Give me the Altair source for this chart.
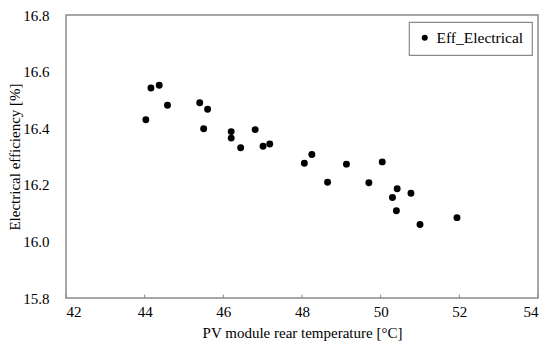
import altair as alt
import pandas as pd

temperature = [44.03, 44.16, 44.37, 44.58, 45.40, 45.50, 45.60, 46.20, 46.20, 46.44,
               46.81, 47.01, 47.18, 48.06, 48.25, 48.65, 49.13, 49.70, 50.04, 50.30,
               50.42, 50.40, 50.77, 51.00, 51.94]
efficiency = [16.430, 16.542, 16.552, 16.481, 16.490, 16.398, 16.467, 16.388, 16.365, 16.331,
              16.395, 16.336, 16.344, 16.276, 16.307, 16.209, 16.273, 16.207, 16.281, 16.155,
              16.186, 16.108, 16.170, 16.060, 16.084]
series_name = "Eff_Electrical"
x_ticks = [42, 44, 46, 48, 50, 52, 54]
y_ticks = [15.8, 16.0, 16.2, 16.4, 16.6, 16.8]

df = pd.DataFrame({"temp": temperature, "eff": efficiency, "series": series_name})
ticks_df = pd.DataFrame({"t": x_ticks, "y0": 15.8, "y1": 15.812})

FONT = "'Liberation Serif', 'Times New Roman', 'DejaVu Serif', serif"
GRAY = "#8a8a8a"

xscale = alt.Scale(domain=[42, 54], nice=False, zero=False)
yscale = alt.Scale(domain=[15.8, 16.8], nice=False, zero=False)

points = alt.Chart(df).mark_circle(size=48, opacity=1).encode(
    x=alt.X("temp:Q", scale=xscale,
            axis=alt.Axis(values=x_ticks, title="PV module rear temperature [°C]",
                          grid=False, domain=False, ticks=False, labelPadding=6,
                          titlePadding=6, format="d")),
    y=alt.Y("eff:Q", scale=yscale,
            axis=alt.Axis(values=y_ticks, title="Electrical efficiency [%]",
                          grid=False, domain=False, ticks=False, labelPadding=17,
                          titlePadding=0, format=".1f")),
    color=alt.Color("series:N", scale=alt.Scale(range=["#000000"]),
                    legend=alt.Legend(title=None, orient="none", legendX=343, legendY=7,
                                      strokeColor=GRAY, padding=8,
                                      symbolType="circle", symbolSize=36,
                                      labelFontSize=15.5, labelFont=FONT, labelColor="#000",
                                      labelOffset=4, fillColor="white")),
)

tick_marks = alt.Chart(ticks_df).mark_rule(color=GRAY, strokeWidth=1).encode(
    x=alt.X("t:Q", scale=xscale),
    y=alt.Y("y0:Q", scale=yscale),
    y2="y1:Q",
)

chart = alt.layer(tick_marks, points).properties(
    width=472, height=283,
    autosize=alt.AutoSizeParams(type="none"),
    padding={"left": 58, "top": 7, "right": 4, "bottom": 47},
    background="white",
).configure_view(
    stroke=GRAY, strokeWidth=1.5
).configure_legend(
    strokeWidth=1.2
).configure_axis(
    labelFont=FONT, titleFont=FONT, labelFontSize=15, titleFontSize=15,
    labelColor="#000", titleColor="#000", titleFontWeight="normal",
)

chart.save("out.html", embed_options={"renderer": "svg", "actions": False})
